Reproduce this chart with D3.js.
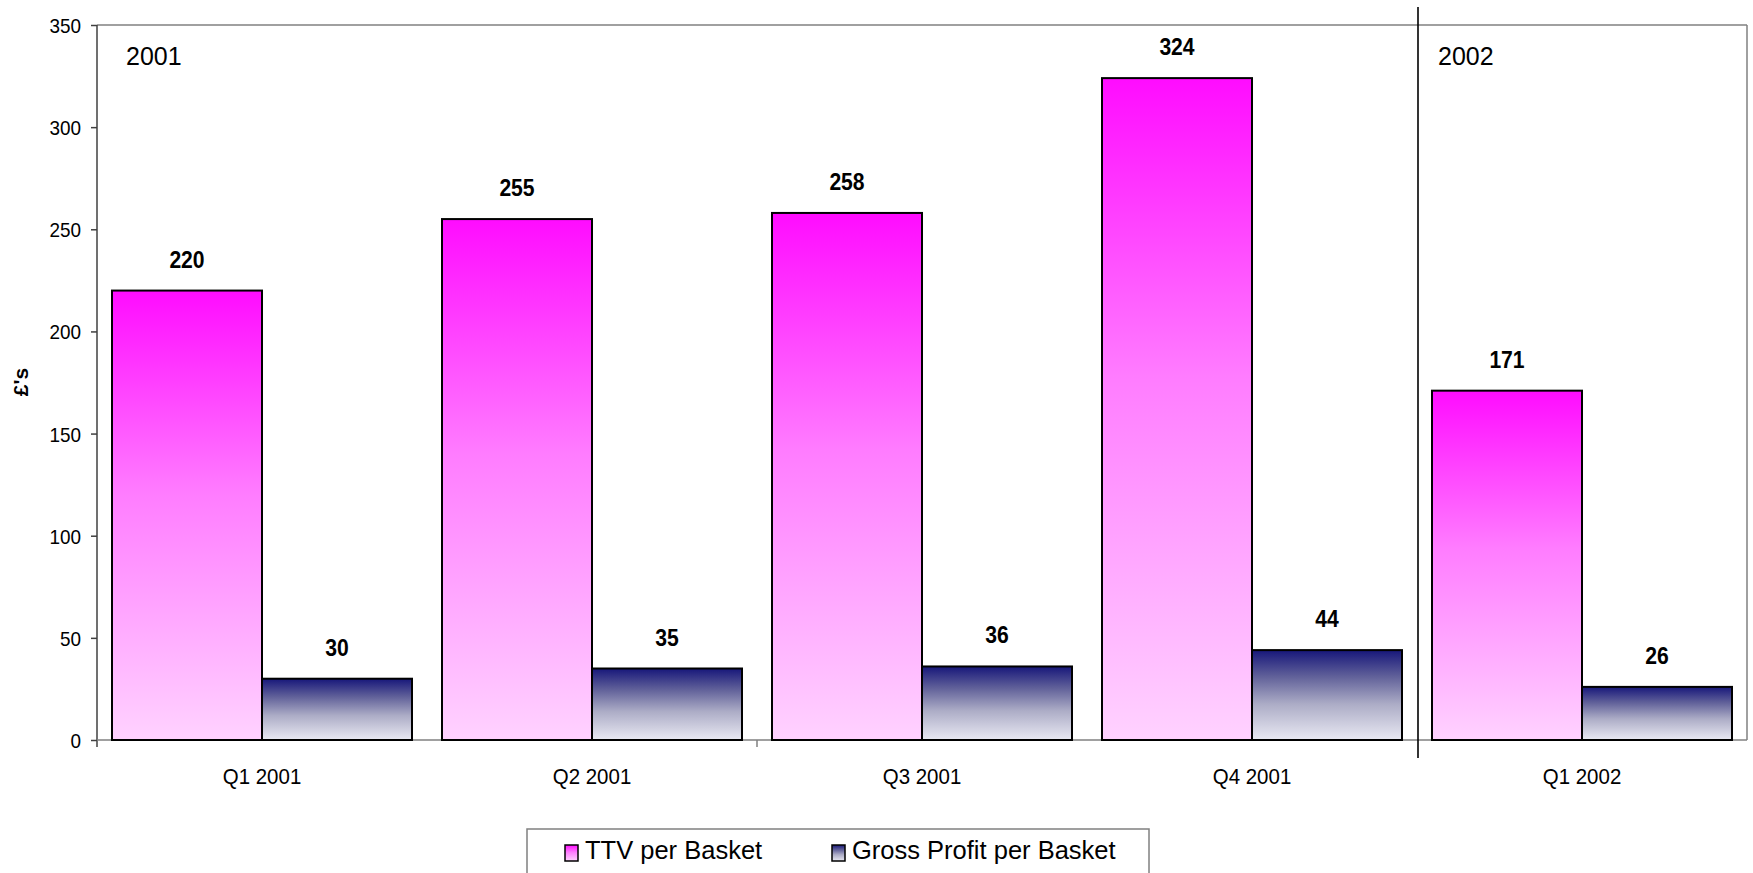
<!DOCTYPE html>
<html>
<head>
<meta charset="utf-8">
<script src="https://cdn.jsdelivr.net/npm/d3@7"></script>
<style>
  html, body { margin: 0; padding: 0; background: #fff; }
  svg { display: block; font-family: "Liberation Sans", Arial, sans-serif; }
</style>
</head>
<body>
<svg id="chart" width="1753" height="873"></svg>
<script>
// Quarterly basket figures (£)
const categories = ["Q1 2001", "Q2 2001", "Q3 2001", "Q4 2001", "Q1 2002"];
const seriesNames = ["TTV per Basket", "Gross Profit per Basket"];
const ttvPerBasket = [220, 255, 258, 324, 171];
const grossProfitPerBasket = [30, 35, 36, 44, 26];
const yTicks = [0, 50, 100, 150, 200, 250, 300, 350];
const yearLabels = ["2001", "2002"];
const yearStarts = ["Q1 2001", "Q1 2002"];
const dividerBefore = "Q1 2002";
const yTitle = "£'s";

const seriesValues = [ttvPerBasket, grossProfitPerBasket];
const rows = categories.map((c, i) => ({
  category: c,
  values: seriesNames.map((s, k) => ({ series: s, value: seriesValues[k][i] }))
}));

const svg = d3.select("#chart");

const plot = { left: 97, right: 1747, top: 25, bottom: 740 };

const x = d3.scaleBand().domain(categories).range([plot.left, plot.right]).padding(0);
const xs = d3.scaleBand().domain(seriesNames).range([0, x.bandwidth()]).paddingInner(0).paddingOuter(0.1);
const y = d3.scaleLinear().domain([0, 350]).range([plot.bottom, plot.top]);

// Gradients: bright at the top of each bar, pale at its base
const defs = svg.append("defs");
const gradients = {
  "TTV per Basket": [["0%", "#ff0cff"], ["45%", "#ff7cff"], ["100%", "#ffd2ff"]],
  "Gross Profit per Basket": [["0%", "#17177a"], ["30%", "#62629a"], ["60%", "#acacc6"], ["100%", "#e9e9f3"]]
};
const gradId = s => s === seriesNames[0] ? "gradTTV" : "gradGP";
seriesNames.forEach(s => {
  const g = defs.append("linearGradient").attr("id", gradId(s))
    .attr("x1", 0).attr("y1", 0).attr("x2", 0).attr("y2", 1);
  gradients[s].forEach(([o, c]) => g.append("stop").attr("offset", o).attr("stop-color", c));
});

// Squeeze a text element horizontally to a fraction of its natural width
function condense(sel, f) {
  sel.each(function () {
    const w = this.getComputedTextLength();
    d3.select(this).attr("textLength", w * f).attr("lengthAdjust", "spacingAndGlyphs");
  });
}

// Plot frame (top and right in grey)
svg.append("line").attr("x1", plot.left).attr("x2", plot.right).attr("y1", plot.top).attr("y2", plot.top)
  .attr("stroke", "#808080").attr("stroke-width", 1.5);
svg.append("line").attr("x1", plot.right).attr("x2", plot.right).attr("y1", plot.top).attr("y2", plot.bottom)
  .attr("stroke", "#808080").attr("stroke-width", 1.5);

// Y axis
const yAxis = d3.axisLeft(y).tickValues(yTicks).tickSize(6).tickPadding(10).tickSizeOuter(0);
const gy = svg.append("g").attr("transform", `translate(${plot.left},0)`).call(yAxis);
gy.select(".domain").remove();
gy.selectAll(".tick line").attr("stroke", "#404040").attr("stroke-width", 1.5);
gy.selectAll(".tick text").attr("font-size", 21).attr("fill", "#000")
  .attr("font-family", "Liberation Sans, Arial, sans-serif").attr("dy", "0.36em");
condense(gy.selectAll(".tick text"), 0.9);
svg.append("line").attr("x1", plot.left).attr("x2", plot.left).attr("y1", plot.top).attr("y2", plot.bottom + 7)
  .attr("stroke", "#404040").attr("stroke-width", 1.5);

// X axis
const xAxis = d3.axisBottom(x).tickSize(0).tickPadding(28);
const gx = svg.append("g").attr("transform", `translate(0,${plot.bottom})`).call(xAxis);
gx.select(".domain").remove();
gx.selectAll(".tick text").attr("font-size", 22).attr("fill", "#000")
  .attr("font-family", "Liberation Sans, Arial, sans-serif");
condense(gx.selectAll(".tick text"), 0.93);
svg.append("line").attr("x1", plot.left).attr("x2", plot.right).attr("y1", plot.bottom).attr("y2", plot.bottom)
  .attr("stroke", "#808080").attr("stroke-width", 1.5);
// tick marks every second category boundary
[categories[2]].forEach(c => {
  svg.append("line").attr("x1", x(c)).attr("x2", x(c)).attr("y1", plot.bottom).attr("y2", plot.bottom + 7)
    .attr("stroke", "#808080").attr("stroke-width", 1.5);
});

// Bars
const groups = svg.append("g").selectAll("g").data(rows).join("g")
  .attr("transform", d => `translate(${x(d.category)},0)`);
groups.selectAll("rect").data(d => d.values).join("rect")
  .attr("x", d => xs(d.series))
  .attr("y", d => y(d.value))
  .attr("width", xs.bandwidth())
  .attr("height", d => y(0) - y(d.value))
  .attr("fill", d => `url(#${gradId(d.series)})`)
  .attr("stroke", "#000").attr("stroke-width", 2);

// Value labels
const vl = groups.selectAll("text.val").data(d => d.values).join("text")
  .attr("class", "val")
  .attr("x", d => xs(d.series) + xs.bandwidth() / 2)
  .attr("y", d => y(d.value) - 23)
  .attr("text-anchor", "middle")
  .attr("font-size", 24).attr("font-weight", "bold")
  .text(d => d.value);
condense(vl, 0.88);

// Year divider
svg.append("line").attr("x1", x(dividerBefore) + 1).attr("x2", x(dividerBefore) + 1)
  .attr("y1", 7).attr("y2", 758).attr("stroke", "#000").attr("stroke-width", 1.6);

// Year labels
const yearOffsets = [29, 21];
svg.selectAll("text.year").data(yearLabels).join("text")
  .attr("class", "year")
  .attr("x", (d, i) => x(yearStarts[i]) + yearOffsets[i])
  .attr("y", 65)
  .attr("font-size", 25)
  .text(d => d);

// Y title
svg.append("text").attr("transform", "translate(28,382) rotate(-90)")
  .attr("text-anchor", "middle").attr("font-size", 21).attr("font-weight", "bold")
  .text(yTitle);

// Legend
const legend = svg.append("g");
legend.append("rect").attr("x", 527).attr("y", 829).attr("width", 622).attr("height", 60)
  .attr("fill", "#fff").attr("stroke", "#808080").attr("stroke-width", 1.5);
const legendItems = [
  { series: seriesNames[0], sx: 565 },
  { series: seriesNames[1], sx: 832 }
];
legendItems.forEach(it => {
  legend.append("rect").attr("x", it.sx).attr("y", 845).attr("width", 13).attr("height", 16)
    .attr("fill", `url(#${gradId(it.series)})`).attr("stroke", "#000").attr("stroke-width", 1.5);
  legend.append("text").attr("x", it.sx + 20).attr("y", 859).attr("font-size", 25.5)
    .text(it.series);
});
</script>
</body>
</html>
